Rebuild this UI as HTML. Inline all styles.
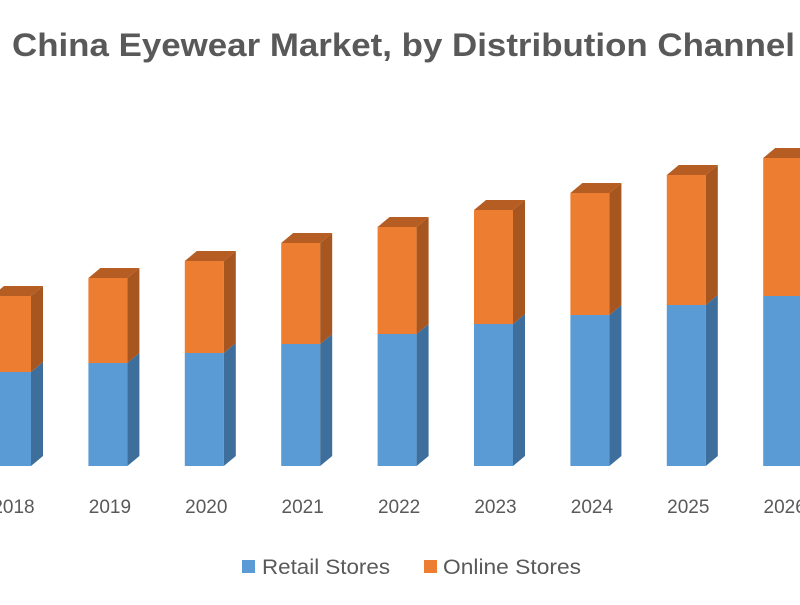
<!DOCTYPE html>
<html><head><meta charset="utf-8"><style>
body{margin:0;background:#fff;width:800px;height:600px;overflow:hidden;font-family:"Liberation Sans",sans-serif}
</style></head><body>
<svg id="chart" width="800" height="600" xmlns="http://www.w3.org/2000/svg">
<text x="12" y="56" textLength="783" lengthAdjust="spacingAndGlyphs" font-family="Liberation Sans, sans-serif" font-weight="bold" font-size="32" fill="#595959">China Eyewear Market, by Distribution Channel</text>
<g id="bars"></g><g id="xlabels"></g>
<g>
<rect x="242" y="560" width="13" height="13" fill="#5b9bd5"/>
<text x="262" y="574" textLength="128" lengthAdjust="spacingAndGlyphs" font-size="21" fill="#595959">Retail Stores</text>
<rect x="424" y="560" width="13" height="13" fill="#ed7d31"/>
<text x="443" y="574" textLength="138" lengthAdjust="spacingAndGlyphs" font-size="21" fill="#595959">Online Stores</text>
</g>
</svg>
<script>
const categories=["2018","2019","2020","2021","2022","2023","2024","2025","2026"];
const retail=[94,103,113,122,132,142,151,161,170];
const online=[76,85,92,101,107,114,122,130,138];
const NS="http://www.w3.org/2000/svg";
const baseY=466, x0=-8, step=96.4, bw=39, dx=12, dy=10;
function xPos(i){return x0+i*step;}
function yPos(v){return baseY-v;}
const g=document.getElementById('bars'), xl=document.getElementById('xlabels');
function poly(pts,fill,name){const p=document.createElementNS(NS,'polygon');p.setAttribute('points',pts.map(a=>a.join(',')).join(' '));p.setAttribute('fill',fill);


g.appendChild(p);}
function seg(x,yb,yt,front,side,top,name){
  poly([[x,yt],[x+bw,yt],[x+bw,yb],[x,yb]],front,name);
  poly([[x+bw,yt],[x+bw+dx,yt-dy],[x+bw+dx,yb-dy],[x+bw,yb]],side,name+'-side');
  if(top) poly([[x,yt],[x+dx,yt-dy],[x+bw+dx,yt-dy],[x+bw,yt]],top,name+'-top');
}
categories.forEach((c,i)=>{
  const x=xPos(i), yb=yPos(0), y1=yPos(retail[i]), y2=yPos(retail[i]+online[i]);
  seg(x,yb,y1,'#5b9bd5','#3e6f9c',null,'bar-retail-'+c);
  seg(x,y1,y2,'#ed7d31','#a8561f','#b55d22','bar-online-'+c);
  const t=document.createElementNS(NS,'text');
  t.setAttribute('x',x+bw/2+2);t.setAttribute('y',513);t.setAttribute('text-anchor','middle');
  t.setAttribute('font-size','19');t.setAttribute('fill','#595959');t.textContent=c;
  
  
  xl.appendChild(t);
});
</script>
</body></html>
